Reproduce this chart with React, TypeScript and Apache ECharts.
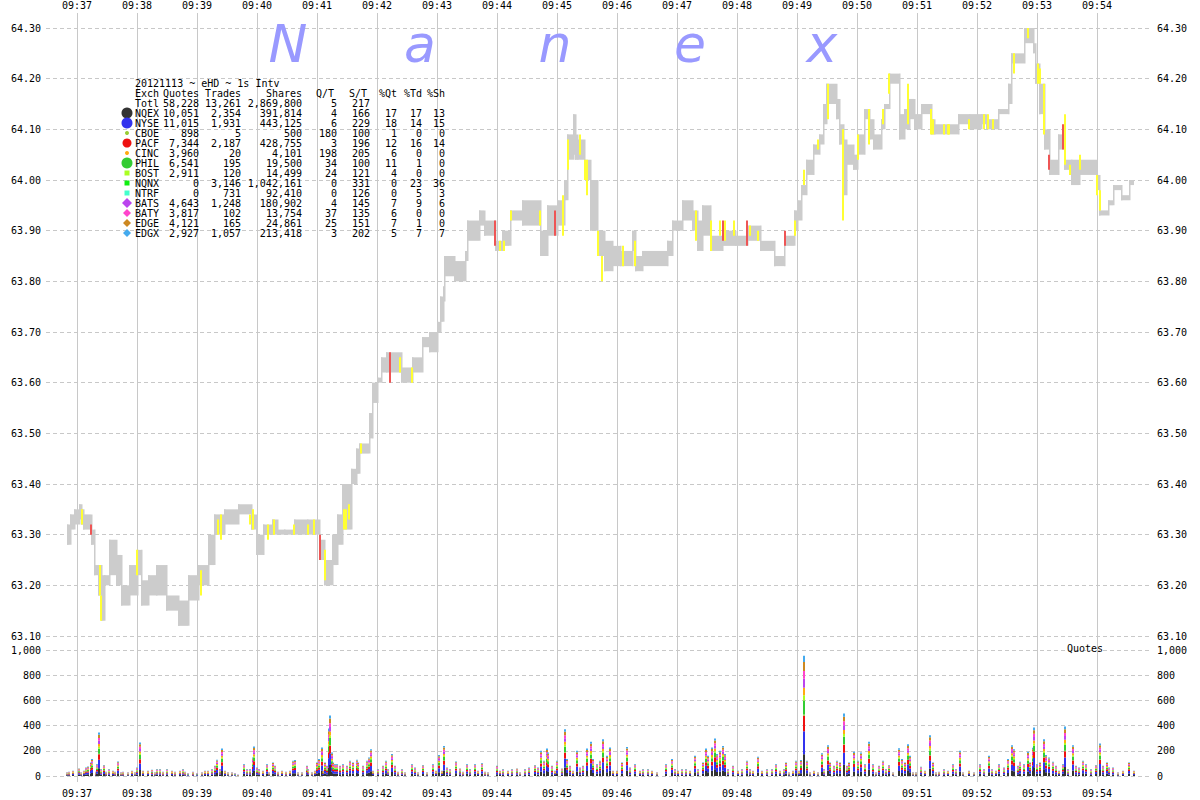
import React, { useEffect, useRef } from "react";
import * as echarts from "echarts";

// time axis: seconds relative to 09:37:00
const BASE = Date.UTC(2012, 10, 13, 14, 37, 0);
const X_MIN_S = -31;
const X_MAX_S = 1073;
const BAND_END_S = 1057;

// NBBO band segments (start second, low, high)
const bandStart = [-10,-7,-3,2,4,6,14,17,21,24,27,32,39,44,52,60,64,71,79,89,101,111,121,131,137,147,161,174,179,186,195,200,207,217,230,242,247,255,260,265,274,279,282,292,295,300,304,309,324,335,345,352,360,363,366,367,377,388,390,402,407,418,425,433,445,463,470,480,487,490,496,498,500,507,513,520,527,535,543,555,558,565,590,595,605,615,620,625,633,645,658,670,683,697,707,717,720,724,729,736,742,746,749,759,762,766,769,776,780,787,792,796,804,807,812,822,827,832,837,844,854,857,881,892,904,909,921,931,934,947,956,958,962,967,972,981,987,994,1002,1019,1022,1031,1036,1044,1052];
const bandLow = [63.28,63.31,63.32,63.33,63.32,63.31,63.28,63.22,63.18,63.13,63.20,63.22,63.20,63.16,63.18,63.22,63.16,63.18,63.18,63.15,63.12,63.17,63.20,63.24,63.30,63.32,63.34,63.31,63.26,63.30,63.30,63.30,63.30,63.30,63.30,63.25,63.20,63.24,63.28,63.31,63.40,63.42,63.46,63.49,63.56,63.60,63.62,63.62,63.60,63.62,63.67,63.66,63.70,63.72,63.76,63.81,63.80,63.84,63.88,63.91,63.89,63.86,63.87,63.92,63.91,63.85,63.89,63.91,63.96,64.04,64.05,64.04,64.04,64.00,63.90,63.85,63.82,63.83,63.83,63.86,63.82,63.83,63.85,63.90,63.92,63.90,63.86,63.89,63.86,63.87,63.87,63.88,63.86,63.83,63.87,63.90,63.92,63.97,64.01,64.05,64.07,64.11,64.15,64.12,64.07,63.97,64.03,64.02,64.05,64.12,64.08,64.06,64.10,64.14,64.19,64.08,64.10,64.12,64.10,64.13,64.09,64.09,64.11,64.10,64.11,64.10,64.13,64.15,64.23,64.27,64.25,64.19,64.13,64.06,64.01,64.06,64.02,63.99,64.01,63.98,63.93,63.95,63.98,63.96,63.99];
const bandHigh = [63.32,63.34,63.35,63.36,63.35,63.34,63.31,63.24,63.24,63.22,63.22,63.29,63.26,63.20,63.24,63.27,63.21,63.22,63.24,63.18,63.17,63.22,63.24,63.30,63.34,63.35,63.36,63.34,63.30,63.32,63.33,63.31,63.31,63.33,63.33,63.29,63.25,63.30,63.34,63.40,63.43,63.47,63.48,63.54,63.60,63.61,63.65,63.66,63.63,63.65,63.69,63.70,63.72,63.77,63.79,63.85,63.84,63.86,63.92,63.94,63.92,63.88,63.90,63.94,63.96,63.90,63.95,63.96,64.00,64.09,64.13,64.09,64.08,64.04,64.00,63.90,63.88,63.87,63.86,63.90,63.85,63.86,63.88,63.92,63.96,63.94,63.92,63.95,63.89,63.90,63.89,63.91,63.88,63.85,63.89,63.94,63.96,63.99,64.04,64.07,64.09,64.15,64.19,64.16,64.11,64.08,64.07,64.05,64.09,64.14,64.12,64.09,64.12,64.15,64.21,64.13,64.14,64.16,64.13,64.15,64.12,64.11,64.13,64.13,64.13,64.12,64.14,64.19,64.25,64.30,64.27,64.23,64.19,64.10,64.04,64.09,64.04,64.04,64.04,64.01,63.94,63.96,63.99,63.97,64.00];

// trade marks (second, low, high, kind Y=yellow R=red)
const markTime = [5,14,23,24,60,124,141,144,173,176,191,197,217,231,237,243,248,267,269,272,284,313,323,335,418,423,427,434,463,478,486,491,503,508,510,521,525,546,558,619,634,643,646,648,657,670,673,681,708,718,727,741,751,766,781,792,806,812,831,854,856,867,871,872,892,907,911,916,937,951,961,963,967,972,986,988,993,1003,1020,1023];
const markLow = [63.32,63.30,63.18,63.13,63.22,63.18,63.30,63.29,63.32,63.31,63.29,63.30,63.30,63.30,63.30,63.25,63.21,63.31,63.31,63.33,63.46,63.60,63.62,63.60,63.87,63.86,63.86,63.92,63.91,63.89,63.89,64.02,64.05,64.00,63.97,63.85,63.80,63.83,63.83,63.88,63.86,63.89,63.88,63.88,63.89,63.87,63.89,63.88,63.87,63.89,63.99,64.06,64.12,63.92,64.04,64.07,64.11,64.17,64.11,64.09,64.09,64.09,64.09,64.09,64.10,64.10,64.10,64.10,64.21,64.28,64.19,64.19,64.09,64.02,64.06,64.03,64.01,64.02,63.97,63.94];
const markHigh = [63.35,63.32,63.24,63.18,63.27,63.23,63.33,63.34,63.34,63.35,63.32,63.33,63.32,63.32,63.33,63.30,63.27,63.35,63.35,63.36,63.48,63.66,63.65,63.63,63.92,63.88,63.88,63.94,63.94,63.94,63.97,64.08,64.09,64.04,64.04,63.90,63.85,63.87,63.88,63.94,63.92,63.92,63.92,63.92,63.92,63.92,63.91,63.90,63.90,63.92,64.02,64.08,64.19,64.10,64.09,64.14,64.14,64.21,64.19,64.14,64.12,64.11,64.11,64.11,64.12,64.13,64.13,64.12,64.25,64.30,64.23,64.22,64.19,64.05,64.11,64.13,64.03,64.05,64.01,63.98];
const markKind = "YRYYYYYYYYYYYYYRYYYYYRYYRYYYYRYYYYYYYYYYYYRYYRYYRYYYYYYYYYYYYYYYYYYYYYYYYRRYYYY";

// quotes per second (total)
const volTime = [-10,-8,-4,2,4,7,9,11,14,15,19,20,22,24,27,29,32,36,38,41,44,46,51,55,58,60,63,66,71,75,78,80,83,86,90,95,98,103,106,108,111,116,120,125,128,131,135,138,140,143,145,148,151,155,158,161,167,170,173,176,177,180,182,186,190,192,196,198,201,205,209,213,216,218,221,225,230,231,235,238,240,242,245,246,248,250,252,253,255,256,258,260,263,266,270,273,276,280,281,286,290,292,294,296,301,306,309,311,315,318,321,325,328,335,338,341,346,350,356,359,362,365,367,370,373,379,383,386,390,393,398,401,405,408,411,420,423,426,431,435,440,443,448,452,458,461,464,467,470,471,475,478,480,485,488,490,493,496,500,503,506,510,514,516,520,523,526,530,533,536,540,545,550,553,558,563,566,571,575,580,589,595,598,601,605,609,613,618,621,626,629,631,635,638,640,643,646,648,651,656,661,665,670,673,676,681,685,690,695,699,703,707,709,712,716,719,722,724,727,730,733,737,741,745,747,751,753,757,760,763,767,770,772,777,781,784,788,792,796,799,802,806,809,812,816,822,825,828,831,833,836,839,844,848,853,856,859,862,867,871,876,879,883,886,892,897,903,907,912,915,919,922,927,931,935,937,941,943,947,951,953,956,957,960,963,967,969,972,976,979,982,986,988,991,996,999,1002,1006,1009,1014,1019,1023,1026,1030,1032,1036,1041,1046,1052,1057];
const volTotal = [29,34,42,60,29,42,68,76,108,134,34,95,345,55,87,34,55,42,34,116,29,34,29,42,29,68,266,42,42,50,29,55,55,34,55,42,34,42,55,34,24,34,24,29,42,42,55,82,129,55,218,42,29,29,24,11,95,55,55,147,234,68,55,42,95,29,108,82,34,42,34,42,121,126,29,29,82,55,29,42,108,134,226,42,108,82,376,481,187,108,95,95,82,95,82,121,108,129,108,82,121,147,213,42,55,82,121,55,174,82,34,55,29,95,68,29,87,29,95,42,166,42,239,68,55,116,60,34,95,55,95,42,103,34,29,82,42,55,42,55,60,29,55,68,87,68,200,121,218,187,82,42,121,60,371,134,82,42,200,68,82,218,271,134,95,121,292,160,226,42,42,108,231,68,95,42,55,55,42,29,95,134,55,42,55,55,42,160,55,108,218,160,226,297,174,200,239,174,55,82,42,55,121,55,42,153,42,55,55,95,42,55,108,29,42,121,42,126,955,121,29,42,29,181,55,245,108,82,121,108,497,82,108,192,121,187,95,271,95,29,82,121,55,87,29,221,134,108,252,160,29,29,74,42,324,108,29,34,55,42,95,55,200,29,42,29,95,55,160,55,42,95,68,134,245,213,82,113,95,192,108,224,384,95,108,292,166,147,113,82,42,95,392,55,245,82,68,121,95,55,87,258,82,108,68,68,29,42,108,42];

// exchange table
const exchNames = ["NQEX","NYSE","CBOE","PACF","CINC","PHIL","BOST","NQNX","NTRF","BATS","BATY","EDGE","EDGX"];
const exchQuotes = [10051,11015,898,7344,3960,6541,2911,0,0,4643,3817,4121,2927];
const exchTrades = [2354,1931,5,2187,20,195,120,3146,731,1248,102,165,1057];
const exchShares = [391814,443125,500,428755,4101,19500,14499,1042161,92410,180902,13754,24861,213418];
const exchQT = [4,6,180,3,198,34,24,0,0,4,37,25,3];
const exchST = [166,229,100,196,205,100,121,331,126,145,135,151,202];
const exchPctQt = [17,18,1,12,6,11,4,0,0,7,6,7,5];
const exchPctTd = [17,14,0,16,0,1,0,23,5,9,0,1,7];
const exchPctSh = [13,15,0,14,0,0,0,36,3,6,0,0,7];
const exchColors = ["#333333","#3333ee","#99cc33","#ee1111","#ffaa11","#33cc33","#aaff22","#11ee11","#44ffcc","#bb44ee","#ff44cc","#cc8822","#44aaee"];
const exchMarker = ["bigc","bigc","smc","cross","smc","bigc","sq","sq","sq","bigd","d","d","d"];
const totalRow = ["Totl", 58228, 13261, 2869800, 5, 217];
const titleText = "20121113 ~ eHD ~ 1s Intv";

// volume stacking order (index into exchange arrays), bottom -> top
const stackOrder = [0, 1, 3, 2, 5, 6, 4, 9, 10, 11, 12];

const FONT = '"DejaVu Sans Mono", monospace';
const ts = (s: number) => BASE + s * 1000;
const fmtNum = (n: number) => n.toLocaleString("en-US");
const pad2 = (n: number) => (n < 10 ? "0" + n : "" + n);

function timeLabel(v: number) {
  const d = Math.round((v - BASE) / 1000);
  if (((d % 60) + 60) % 60 !== 0) return "";
  const m = 9 * 60 + 37 + d / 60;
  return pad2(Math.floor(m / 60)) + ":" + pad2(m % 60);
}

function buildOption() {
  const bandData = bandStart.map((s, i) => [
    ts(s),
    ts(i + 1 < bandStart.length ? bandStart[i + 1] : BAND_END_S),
    bandLow[i],
    bandHigh[i],
    i > 0 ? bandLow[i - 1] : bandLow[i],
    i > 0 ? bandHigh[i - 1] : bandHigh[i],
  ]);
  const markData = markTime.map((s, i) => [ts(s), markLow[i], markHigh[i], markKind[i] === "R" ? 1 : 0]);
  const volData = volTime.map((s, i) => [ts(s), volTotal[i]]);
  const shareSum = stackOrder.reduce((a, k) => a + exchPctQt[k], 0);

  const graphics: any[] = [];
  // watermark
  const wm = [["N", 288], ["a", 420], ["n", 555], ["e", 690], ["x", 822]];
  wm.forEach(([ch, x]) => {
    graphics.push({
      type: "text", x: x as number, y: 44, z: 1,
      style: { text: ch as string, font: 'italic 52px "DejaVu Sans"', fill: "#9999ff", align: "center", verticalAlign: "middle" },
    });
  });
  const colR = [199, 241, 302, 337, 370, 397, 422, 445];
  const txt = (t: string, x: number, y: number, align: string) => ({
    type: "text", x, y, z: 10,
    style: { text: t, font: "10px " + FONT, fill: "#000", align, verticalAlign: "middle" },
  });
  graphics.push(txt(titleText, 135, 83, "left"));
  const hdr = ["Quotes", "Trades", "Shares", "Q/T", "S/T", "%Qt", "%Td", "%Sh"];
  const hdrR = [199, 241, 302, 334, 367, 397, 422, 445];
  graphics.push(txt("Exch", 135, 93, "left"));
  hdr.forEach((h, j) => graphics.push(txt(h, hdrR[j], 93, "right")));
  graphics.push(txt(totalRow[0] as string, 135, 103, "left"));
  for (let j = 1; j < totalRow.length; j++) graphics.push(txt(fmtNum(totalRow[j] as number), colR[j - 1], 103, "right"));
  exchNames.forEach((nm, i) => {
    const y = 113 + i * 10;
    graphics.push(txt(nm, 135, y, "left"));
    const vals = [exchQuotes[i], exchTrades[i], exchShares[i], exchQT[i], exchST[i], exchPctQt[i], exchPctTd[i], exchPctSh[i]];
    vals.forEach((v, j) => graphics.push(txt(fmtNum(v), colR[j], y, "right")));
    const c = exchColors[i];
    const mk = exchMarker[i];
    const cx = 127;
    if (mk === "bigc") graphics.push({ type: "circle", z: 10, shape: { cx, cy: y, r: 5.5 }, style: { fill: c } });
    else if (mk === "smc") graphics.push({ type: "circle", z: 10, shape: { cx, cy: y, r: 2 }, style: { fill: c } });
    else if (mk === "cross") graphics.push({ type: "circle", z: 10, shape: { cx, cy: y, r: 4.5 }, style: { fill: c } });
    else if (mk === "sq") graphics.push({ type: "rect", z: 10, shape: { x: cx - 2.5, y: y - 2.5, width: 5, height: 5 }, style: { fill: c } });
    else {
      const r = mk === "bigd" ? 5 : 4;
      graphics.push({ type: "polygon", z: 10, shape: { points: [[cx, y - r], [cx + r, y], [cx, y + r], [cx - r, y]] }, style: { fill: c } });
    }
  });
  graphics.push(txt("Quotes", 1067, 648, "left"));

  const gridColor = "#c8c8c8";
  const dashed = { show: true, lineStyle: { color: gridColor, type: [4, 3], width: 1 } };
  const yLab = { fontFamily: FONT, fontSize: 10, color: "#000" };

  return {
    animation: false,
    backgroundColor: "#fff",
    grid: [
      { left: 46, right: 50, top: 12, bottom: 18 },
      { left: 46, right: 50, top: 28, height: 608 },
      { left: 46, right: 50, top: 650, height: 126 },
    ],
    xAxis: [
      {
        type: "time", gridIndex: 0, position: "top", min: ts(X_MIN_S), max: ts(X_MAX_S),
        minInterval: 60000, maxInterval: 60000, splitNumber: 18,
        axisLine: { show: false }, axisTick: { show: false },
        axisLabel: { formatter: timeLabel, fontFamily: FONT, fontSize: 10, color: "#000", margin: 3, hideOverlap: false },
        splitLine: { show: true, showMinLine: false, showMaxLine: false, lineStyle: { color: gridColor, width: 1 } },
      },
      {
        type: "time", gridIndex: 0, position: "bottom", min: ts(X_MIN_S), max: ts(X_MAX_S),
        minInterval: 60000, maxInterval: 60000, splitNumber: 18,
        axisLine: { show: false }, axisTick: { show: false },
        axisLabel: { formatter: timeLabel, fontFamily: FONT, fontSize: 10, color: "#000", margin: 6, hideOverlap: false },
        splitLine: { show: false },
      },
      { type: "time", gridIndex: 1, min: ts(X_MIN_S), max: ts(X_MAX_S), show: false },
      { type: "time", gridIndex: 2, min: ts(X_MIN_S), max: ts(X_MAX_S), show: false },
    ],
    yAxis: [
      { type: "value", gridIndex: 0, min: 0, max: 1, show: false },
      {
        type: "value", gridIndex: 1, position: "left", min: 63.1, max: 64.3, interval: 0.1,
        axisLine: { show: false }, axisTick: { show: false },
        axisLabel: { ...yLab, margin: 5, formatter: (v: number) => v.toFixed(2) },
        splitLine: dashed,
      },
      {
        type: "value", gridIndex: 1, position: "right", min: 63.1, max: 64.3, interval: 0.1,
        axisLine: { show: false }, axisTick: { show: false },
        axisLabel: { ...yLab, margin: 7, formatter: (v: number) => v.toFixed(2) },
        splitLine: { show: false },
      },
      {
        type: "value", gridIndex: 2, position: "left", min: 0, max: 1000, interval: 200,
        axisLine: { show: false }, axisTick: { show: false },
        axisLabel: { ...yLab, margin: 5, formatter: (v: number) => fmtNum(v) },
        splitLine: dashed,
      },
      {
        type: "value", gridIndex: 2, position: "right", min: 0, max: 1000, interval: 200,
        axisLine: { show: false }, axisTick: { show: false },
        axisLabel: { ...yLab, margin: 7, formatter: (v: number) => fmtNum(v) },
        splitLine: { show: false },
      },
    ],
    graphic: graphics,
    series: [
      {
        type: "custom", name: "NBBO", xAxisIndex: 2, yAxisIndex: 1, data: bandData, z: 3,
        renderItem: (params: any, api: any) => {
          const t0 = api.value(0), t1 = api.value(1);
          const lo = api.value(2), hi = api.value(3);
          const pLo = api.value(4), pHi = api.value(5);
          const a = api.coord([t0, hi]);
          const b = api.coord([t1, lo]);
          const c1 = api.coord([t0, Math.max(hi, pHi)]);
          const c2 = api.coord([t0, Math.min(lo, pLo)]);
          return {
            type: "group",
            children: [
              { type: "rect", shape: { x: a[0], y: a[1], width: Math.max(1, b[0] - a[0]), height: Math.max(2, b[1] - a[1]) }, style: { fill: "#cccccc" } },
              { type: "rect", shape: { x: c1[0], y: c1[1], width: 1.5, height: Math.max(2, c2[1] - c1[1]) }, style: { fill: "#cccccc" } },
            ],
          };
        },
      },
      {
        type: "custom", name: "Trades", xAxisIndex: 2, yAxisIndex: 1, data: markData, z: 4,
        renderItem: (params: any, api: any) => {
          const t = api.value(0);
          const a = api.coord([t, api.value(2)]);
          const b = api.coord([t, api.value(1)]);
          return { type: "rect", shape: { x: a[0] - 1, y: a[1], width: 2, height: Math.max(2, b[1] - a[1]) }, style: { fill: api.value(3) === 1 ? "#ee5555" : "#ffff33" } };
        },
      },
      {
        type: "custom", name: "Quotes", xAxisIndex: 3, yAxisIndex: 3, data: volData, z: 3,
        renderItem: (params: any, api: any) => {
          const t = api.value(0);
          const total = api.value(1);
          const children: any[] = [];
          let cum = 0;
          stackOrder.forEach((k) => {
            const v = (total * exchPctQt[k]) / shareSum;
            if (v <= 0) return;
            const p0 = api.coord([t, cum]);
            const p1 = api.coord([t, cum + v]);
            children.push({ type: "rect", shape: { x: p0[0] - 1, y: p1[1], width: 2, height: p0[1] - p1[1] }, style: { fill: exchColors[k] } });
            cum += v;
          });
          return { type: "group", children };
        },
      },
    ],
  };
}

export default function App() {
  const ref = useRef<HTMLDivElement>(null);
  useEffect(() => {
    if (!ref.current) return;
    const chart = echarts.init(ref.current, null, { renderer: "svg" });
    chart.setOption(buildOption() as any);
    return () => chart.dispose();
  }, []);
  return (
    <div
      ref={ref}
      style={{ position: "fixed", left: 0, top: 0, width: 1200, height: 800, background: "#fff" }}
    />
  );
}
